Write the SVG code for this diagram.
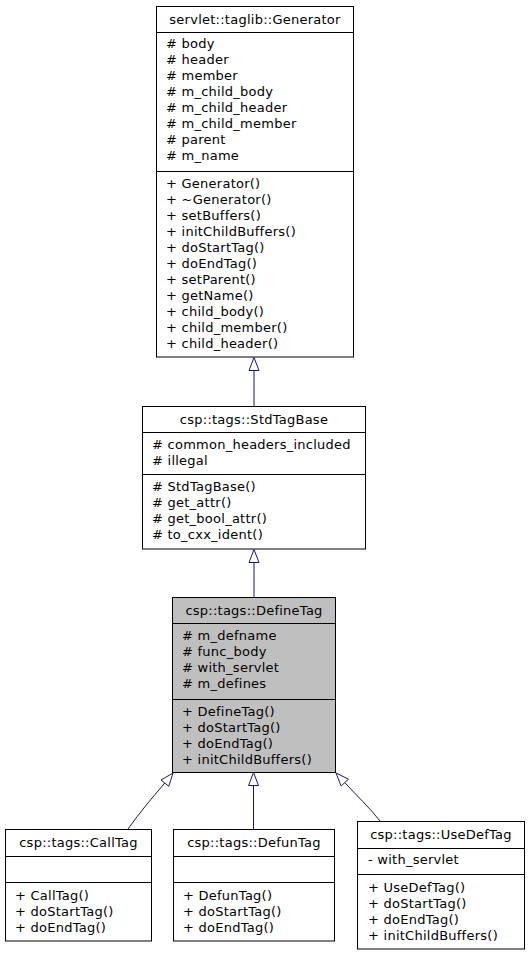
<svg xmlns="http://www.w3.org/2000/svg" width="531" height="955" viewBox="0 0 531 955">
<style>
  .box { fill: #ffffff; stroke: #000000; stroke-width: 1; }
  .hl { fill: #bfbfbf; }
  .sep { stroke: #000000; stroke-width: 1; }
  text { font-family: "DejaVu Sans", "Liberation Sans", sans-serif; font-size: 13px; letter-spacing: 0.25px; fill: #000000; }
  .t { text-anchor: middle; }
  .edge { stroke: #191970; stroke-width: 1; fill: none; }
  .head { stroke: #191970; stroke-width: 1; fill: #ffffff; }
</style>
<rect width="531" height="955" fill="#ffffff"/>

<g id="connectors">
  <line class="edge" x1="254" y1="406" x2="254" y2="370"/>
  <polygon class="head" points="254,357.5 249,370.5 259,370.5"/>
  <line class="edge" x1="254" y1="597" x2="254" y2="562"/>
  <polygon class="head" points="254,549.5 249,562.5 259,562.5"/>
  <line class="edge" x1="253.5" y1="829" x2="253.5" y2="785"/>
  <polygon class="head" points="253.5,772.5 248.5,785.5 258.5,785.5"/>
  <path class="edge" d="M128,829 C140,812 152,798 164.8,783"/>
  <polygon class="head" points="173,773 168.8,786.3 161,780"/>
  <path class="edge" d="M380,821 C370,808 356,795 344.8,782.6"/>
  <polygon class="head" points="336,773 348.5,779.2 341.1,786"/>
</g>

<g id="node-generator">
  <rect class="box" x="156.5" y="6.5" width="197" height="350.5"/>
  <line class="sep" x1="156.5" y1="32.5" x2="353.5" y2="32.5"/>
  <line class="sep" x1="156.5" y1="171.5" x2="353.5" y2="171.5"/>
  <text class="t" x="255" y="24">servlet::taglib::Generator</text>
  <text x="166" y="48"># body</text>
  <text x="166" y="64"># header</text>
  <text x="166" y="80"># member</text>
  <text x="166" y="96"># m_child_body</text>
  <text x="166" y="112"># m_child_header</text>
  <text x="166" y="128"># m_child_member</text>
  <text x="166" y="144"># parent</text>
  <text x="166" y="160"># m_name</text>
  <text x="166" y="188">+ Generator()</text>
  <text x="166" y="204">+ ~Generator()</text>
  <text x="166" y="220">+ setBuffers()</text>
  <text x="166" y="236">+ initChildBuffers()</text>
  <text x="166" y="252">+ doStartTag()</text>
  <text x="166" y="268">+ doEndTag()</text>
  <text x="166" y="284">+ setParent()</text>
  <text x="166" y="300">+ getName()</text>
  <text x="166" y="316">+ child_body()</text>
  <text x="166" y="332">+ child_member()</text>
  <text x="166" y="348">+ child_header()</text>
</g>

<g id="node-stdtagbase">
  <rect class="box" x="142.5" y="406.5" width="223" height="142.5"/>
  <line class="sep" x1="142.5" y1="432.5" x2="365.5" y2="432.5"/>
  <line class="sep" x1="142.5" y1="474.5" x2="365.5" y2="474.5"/>
  <text class="t" x="254" y="424">csp::tags::StdTagBase</text>
  <text x="152" y="449"># common_headers_included</text>
  <text x="152" y="465"># illegal</text>
  <text x="152" y="491"># StdTagBase()</text>
  <text x="152" y="507"># get_attr()</text>
  <text x="152" y="523"># get_bool_attr()</text>
  <text x="152" y="539"># to_cxx_ident()</text>
</g>

<g id="node-definetag">
  <rect class="box hl" x="172.5" y="597.5" width="163" height="175"/>
  <line class="sep" x1="172.5" y1="623.5" x2="335.5" y2="623.5"/>
  <line class="sep" x1="172.5" y1="699.5" x2="335.5" y2="699.5"/>
  <text class="t" x="254" y="615">csp::tags::DefineTag</text>
  <text x="182" y="640"># m_defname</text>
  <text x="182" y="656"># func_body</text>
  <text x="182" y="672"># with_servlet</text>
  <text x="182" y="688"># m_defines</text>
  <text x="182" y="716">+ DefineTag()</text>
  <text x="182" y="732">+ doStartTag()</text>
  <text x="182" y="748">+ doEndTag()</text>
  <text x="182" y="764">+ initChildBuffers()</text>
</g>

<g id="node-calltag">
  <rect class="box" x="5.5" y="829.5" width="146" height="111.5"/>
  <line class="sep" x1="5.5" y1="856.5" x2="151.5" y2="856.5"/>
  <line class="sep" x1="5.5" y1="882.5" x2="151.5" y2="882.5"/>
  <text class="t" x="78.5" y="847">csp::tags::CallTag</text>
  <text x="15" y="900">+ CallTag()</text>
  <text x="15" y="916">+ doStartTag()</text>
  <text x="15" y="932">+ doEndTag()</text>
</g>

<g id="node-defuntag">
  <rect class="box" x="173.5" y="829.5" width="161" height="111.5"/>
  <line class="sep" x1="173.5" y1="856.5" x2="334.5" y2="856.5"/>
  <line class="sep" x1="173.5" y1="882.5" x2="334.5" y2="882.5"/>
  <text class="t" x="254" y="847">csp::tags::DefunTag</text>
  <text x="183" y="900">+ DefunTag()</text>
  <text x="183" y="916">+ doStartTag()</text>
  <text x="183" y="932">+ doEndTag()</text>
</g>

<g id="node-usedeftag">
  <rect class="box" x="357.5" y="821.5" width="167" height="127.5"/>
  <line class="sep" x1="357.5" y1="848.5" x2="524.5" y2="848.5"/>
  <line class="sep" x1="357.5" y1="874.5" x2="524.5" y2="874.5"/>
  <text class="t" x="441" y="839">csp::tags::UseDefTag</text>
  <text x="368" y="864">- with_servlet</text>
  <text x="368" y="892">+ UseDefTag()</text>
  <text x="368" y="908">+ doStartTag()</text>
  <text x="368" y="924">+ doEndTag()</text>
  <text x="368" y="940">+ initChildBuffers()</text>
</g>
</svg>
